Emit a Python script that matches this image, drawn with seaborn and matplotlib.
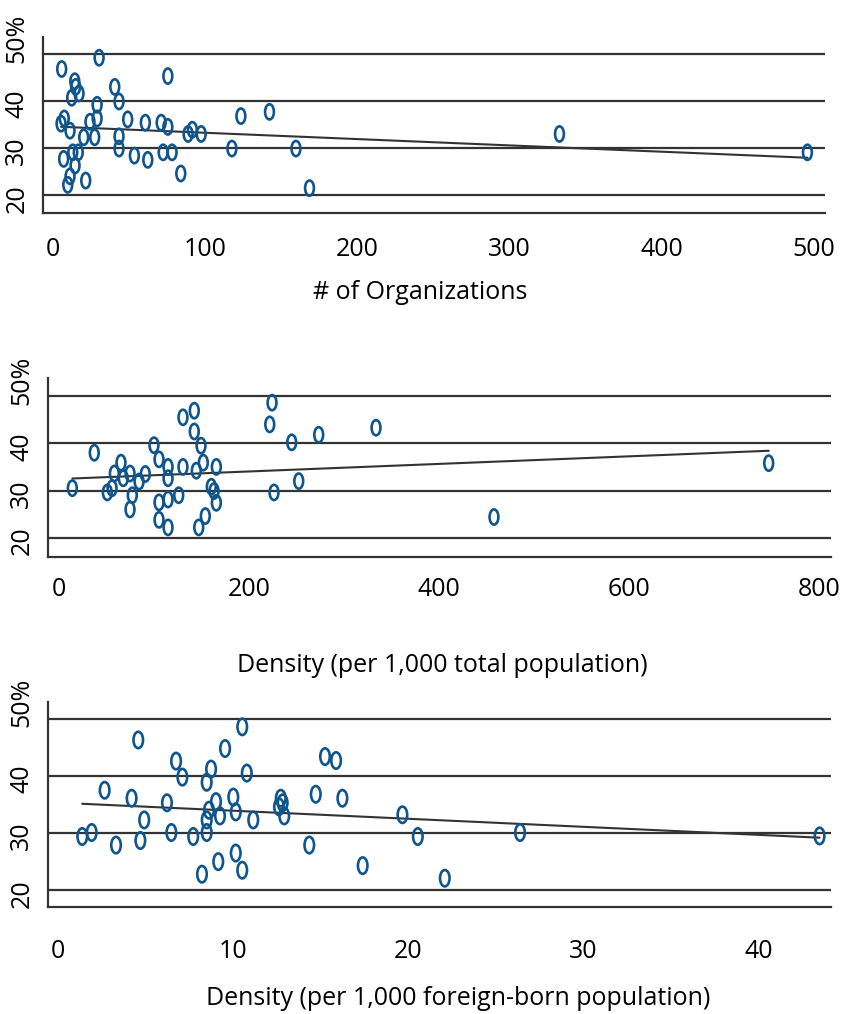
import matplotlib
matplotlib.use("Agg")
import matplotlib.pyplot as plt
import matplotlib.path as mpath
import matplotlib.transforms as mtransforms
import seaborn as sns

# Panel 1: number of organizations vs share (%)
orgs = [5.5, 30.1, 75.3, 14.1, 14.7, 16.9, 12.1, 40.4, 43.2, 28.8,
        123.3, 142.1, 7.2, 5.1, 24.1, 28.8, 48.9, 60.5, 70.9, 75.3,
        11.0, 20.0, 27.2, 43.2, 88.6, 91.4, 97.2, 43.2, 117.4, 159.5,
        12.8, 16.4, 72.2, 78.1, 6.8, 53.3, 62.1, 14.3, 11.0, 9.5,
        21.3, 83.8, 168.4, 332.7, 495.7]
pct_orgs = [46.8, 49.2, 45.3, 44.2, 43.0, 41.6, 40.7, 43.0, 39.9, 39.2,
            36.8, 37.7, 36.3, 35.2, 35.6, 36.3, 36.1, 35.4, 35.4, 34.5,
            33.7, 32.3, 32.3, 32.5, 33.0, 33.9, 33.0, 29.9, 29.9, 29.9,
            29.1, 29.1, 29.1, 29.1, 27.7, 28.4, 27.5, 26.3, 24.0, 22.2,
            23.1, 24.6, 21.5, 33.0, 29.1]

# Panel 2: density per 1,000 total population
dens_total = [14.0, 37.1, 50.8, 55.8, 58.2, 65.2, 67.6, 74.7, 77.1, 74.7,
              84.2, 90.8, 99.9, 105.2, 105.2, 105.2, 114.7, 114.7, 114.7, 114.7,
              125.9, 130.4, 130.4, 142.3, 142.3, 144.4, 149.4, 151.8, 147.0, 153.9,
              160.2, 163.1, 165.5, 165.5, 221.7, 224.1, 244.8, 226.2, 252.2, 273.2,
              333.5, 457.6, 746.6]
pct_total = [30.5, 38.0, 29.6, 30.5, 33.6, 35.9, 32.6, 33.6, 29.0, 26.0,
             31.9, 33.5, 39.6, 36.6, 27.5, 23.8, 35.0, 32.6, 28.1, 22.2,
             29.0, 45.5, 35.0, 46.9, 42.5, 34.2, 39.5, 35.9, 22.2, 24.6,
             30.8, 29.9, 35.0, 27.4, 44.0, 48.6, 40.2, 29.6, 32.0, 41.8,
             43.3, 24.4, 35.8]

# Panel 3: density per 1,000 foreign-born population
dens_fb = [1.37, 1.91, 2.65, 3.30, 4.19, 4.57, 4.69, 4.91, 6.21, 6.46,
           6.73, 7.09, 7.71, 8.21, 8.48, 8.48, 8.48, 8.61, 8.73, 9.01,
           9.14, 9.24, 9.53, 10.0, 10.14, 10.14, 10.51, 10.51, 10.77, 11.14,
           12.61, 12.71, 12.82, 12.91, 14.34, 14.71, 15.24, 15.87, 16.23, 17.39,
           19.66, 20.54, 22.08, 26.38, 43.49]
pct_fb = [29.4, 30.1, 37.5, 27.9, 36.1, 46.3, 28.7, 32.3, 35.3, 30.1,
          42.6, 39.8, 29.4, 22.8, 38.9, 30.1, 32.3, 34.0, 41.2, 35.5,
          25.0, 33.0, 44.8, 36.3, 33.7, 26.5, 48.6, 23.5, 40.5, 32.3,
          34.6, 36.1, 35.3, 33.0, 27.9, 36.8, 43.4, 42.7, 36.1, 24.3,
          33.2, 29.4, 22.1, 30.1, 29.5]

xlabels = ["# of Organizations",
           "Density (per 1,000 total population)",
           "Density (per 1,000 foreign-born population)"]
yticks = [20, 30, 40, 50]
ytick_labels = ["20", "30", "40", "50%"]

blue = "#0f558e"
dark = "#333333"

sns.set_theme(style="white")
plt.rcParams['font.family'] = ['Open Sans', 'DejaVu Sans']

# hollow upright ellipse marker like Stata's "Oh"
circ = mpath.Path.unit_circle()
ellipse = mpath.Path(circ.vertices * [0.58, 1.0], circ.codes)

fig = plt.figure(figsize=(8.5, 10.14), dpi=100)

# x, y, xticks, xlim, ylim, axes rect, marker size, tick pad, label pad, label x
panels = [
    (orgs, pct_orgs, [0, 100, 200, 300, 400, 500], (-6.6, 507.2), (16.2, 53.6),
     [0.0509, 0.7899, 0.9196, 0.1736], 120, 10.5, 13, 0.482),
    (dens_total, pct_total, [0, 200, 400, 600, 800], (-11.3, 812.1), (16.0, 53.75),
     [0.0568, 0.4510, 0.9208, 0.1759], 120, 7.5, 37, 0.503),
    (dens_fb, pct_fb, [0, 10, 20, 30, 40], (-0.57, 44.14), (17.0, 53.0),
     [0.0568, 0.1052, 0.9208, 0.2028], 140, 15.5, 16, 0.524),
]

for i, (x, y, xt, xlim, ylim, rect, ms, tpad, lpad, lx) in enumerate(panels):
    ax = fig.add_axes(rect)
    ax.set_axisbelow(True)
    sns.regplot(x=x, y=y, ax=ax, ci=None, marker=ellipse,
                scatter_kws=dict(s=ms, facecolors="none", color=blue,
                                 linewidths=1.9, alpha=1, zorder=3),
                line_kws=dict(color=dark, lw=1.5, zorder=2))
    ax.set_xlim(*xlim)
    ax.set_ylim(*ylim)
    ax.set_xticks(xt)
    ax.set_xticklabels([str(v) for v in xt])
    ax.set_yticks(yticks)
    ax.set_yticklabels(ytick_labels)
    ax.yaxis.grid(True, color=dark, lw=1.6)
    ax.xaxis.grid(False)
    for side in ["top", "right"]:
        ax.spines[side].set_visible(False)
    for side in ["left", "bottom"]:
        ax.spines[side].set_color(dark)
        ax.spines[side].set_linewidth(1.6)
    ax.tick_params(axis="both", direction="out", length=7, width=1.5,
                   color=dark, labelsize=18, labelcolor="black")
    ax.tick_params(axis="y", pad=3, labelrotation=90)
    ax.tick_params(axis="x", pad=tpad)
    ax.set_xlabel(xlabels[i], fontsize=18, color="black", labelpad=lpad, x=lx)
    ax.set_ylabel("")
    for lab, t in zip(ax.get_yticklabels(), ytick_labels):
        lab.set_va("center")
        dy = 11.5 if t.endswith("%") else -2.2
        lab.set_transform(lab.get_transform() +
                          mtransforms.ScaledTranslation(0, dy / 72, fig.dpi_scale_trans))

fig.savefig("out.png", dpi=100)
